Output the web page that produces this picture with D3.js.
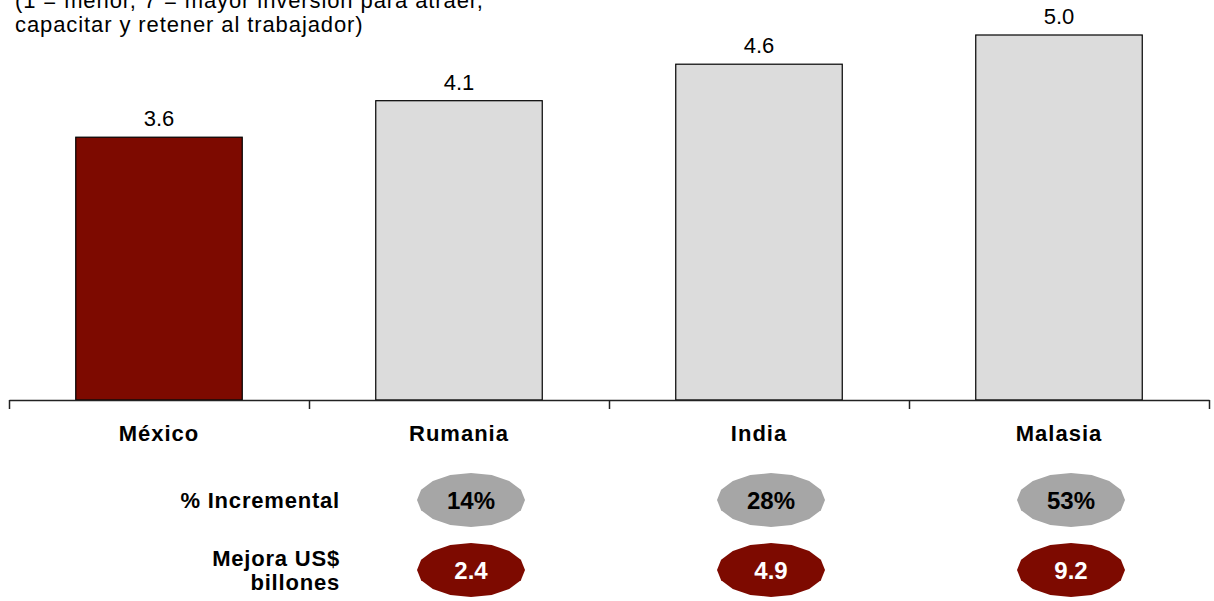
<!DOCTYPE html>
<html>
<head>
<meta charset="utf-8">
<script src="https://cdn.jsdelivr.net/npm/d3@7"></script>
<style>
  body { margin: 0; background: #fff; }
  svg { display: block; font-family: "Liberation Sans", Arial, sans-serif; }
</style>
</head>
<body>
<div id="chart"></div>
<script>
var categories = ["México", "Rumania", "India", "Malasia"];
var values = [3.6, 4.1, 4.6, 5.0];
var incremental = [null, 14, 28, 53];
var mejora = [null, 2.4, 4.9, 9.2];
var titleLines = ["(1 = menor, 7 = mayor inversión para atraer,", "capacitar y retener al trabajador)"];
var rowLabels = [["% Incremental"], ["Mejora US$", "billones"]];

var width = 1214, height = 601;
var baseY = 400;
var red = "#7d0a00";

var svg = d3.select("#chart").append("svg")
    .attr("width", width)
    .attr("height", height);

// title (top cut off like the original)
svg.append("text")
    .attr("font-size", 22)
    .attr("letter-spacing", 0.9)
    .selectAll("tspan").data(titleLines).enter()
    .append("tspan")
    .attr("x", 15)
    .attr("y", function(d, i) { return 8 + i * 23.5; })
    .text(function(d) { return d; });

var x = d3.scaleBand()
    .domain(categories)
    .range([9, 1209])
    .paddingInner(0.445)
    .paddingOuter(0.2225);

var y = d3.scaleLinear()
    .domain([0, 5])
    .range([baseY, 35]);

var slots = d3.scaleLinear().domain([0, categories.length]).range([9, 1209]);

// bars
svg.selectAll(".bar").data(values).enter()
    .append("rect")
    .attr("class", "bar")
    .attr("x", function(d, i) { return x(categories[i]); })
    .attr("y", function(d) { return y(d); })
    .attr("width", x.bandwidth())
    .attr("height", function(d) { return y(0) - y(d); })
    .attr("fill", function(d, i) { return i == 0 ? red : "#dcdcdc"; })
    .attr("stroke", "#000")
    .attr("stroke-width", 1.2);

// value labels
svg.selectAll(".val").data(values).enter()
    .append("text")
    .attr("class", "val")
    .attr("x", function(d, i) { return x(categories[i]) + x.bandwidth() / 2; })
    .attr("y", function(d) { return y(d) - 11; })
    .attr("text-anchor", "middle")
    .attr("font-size", 22)
    .text(function(d) { return d3.format(".1f")(d); });

// axis
var axis = d3.axisBottom(slots)
    .tickValues(d3.range(categories.length + 1))
    .tickFormat("")
    .tickSizeInner(9)
    .tickSizeOuter(0);

var gX = svg.append("g")
    .attr("transform", "translate(0," + baseY + ")")
    .call(axis);
gX.selectAll("path, line").attr("stroke", "#222").attr("stroke-width", 1.5);

// category labels
svg.selectAll(".cat").data(categories).enter()
    .append("text")
    .attr("class", "cat")
    .attr("x", function(d) { return x(d) + x.bandwidth() / 2; })
    .attr("y", 441)
    .attr("text-anchor", "middle")
    .attr("font-size", 22)
    .attr("font-weight", "bold")
    .attr("letter-spacing", 1)
    .text(function(d) { return d; });

// row labels
var rowY = [500, 570];
rowLabels.forEach(function(lines, r) {
    var t = svg.append("text")
        .attr("text-anchor", "end")
        .attr("font-size", 22)
        .attr("font-weight", "bold")
        .attr("letter-spacing", 0.8);
    t.selectAll("tspan").data(lines).enter()
        .append("tspan")
        .attr("x", 340)
        .attr("y", function(d, i) {
            return rowY[r] + 8 - (lines.length - 1) * 12 + i * 24;
        })
        .text(function(d) { return d; });
});

// faceted ellipse shape (like the original's polygon ovals)
var rx = 54, ry = 27;
var shape = d3.line().curve(d3.curveLinearClosed)(d3.range(0, 360, 22.5).map(function(a) {
    var r = a * Math.PI / 180;
    return [rx * Math.cos(r), -ry * Math.sin(r)];
}));

function badges(data, cy, fill, color, fmt) {
    var items = data.map(function(d, i) { return { v: d, c: categories[i] }; })
        .filter(function(d) { return d.v != null; });
    var g = svg.selectAll(null).data(items).enter()
        .append("g")
        .attr("transform", function(d) {
            var cx = x(d.c) + x.bandwidth() / 2 + 12;
            return "translate(" + cx + "," + cy + ")";
        });
    g.append("path").attr("d", shape).attr("fill", fill);
    g.append("text")
        .attr("text-anchor", "middle")
        .attr("y", 9)
        .attr("font-size", 24)
        .attr("font-weight", "bold")
        .attr("fill", color)
        .text(function(d) { return fmt(d.v); });
}

badges(incremental, rowY[0], "#a6a6a6", "#000", function(d) { return d + "%"; });
badges(mejora, rowY[1], red, "#fff", function(d) { return d3.format(".1f")(d); });
</script>
</body>
</html>
